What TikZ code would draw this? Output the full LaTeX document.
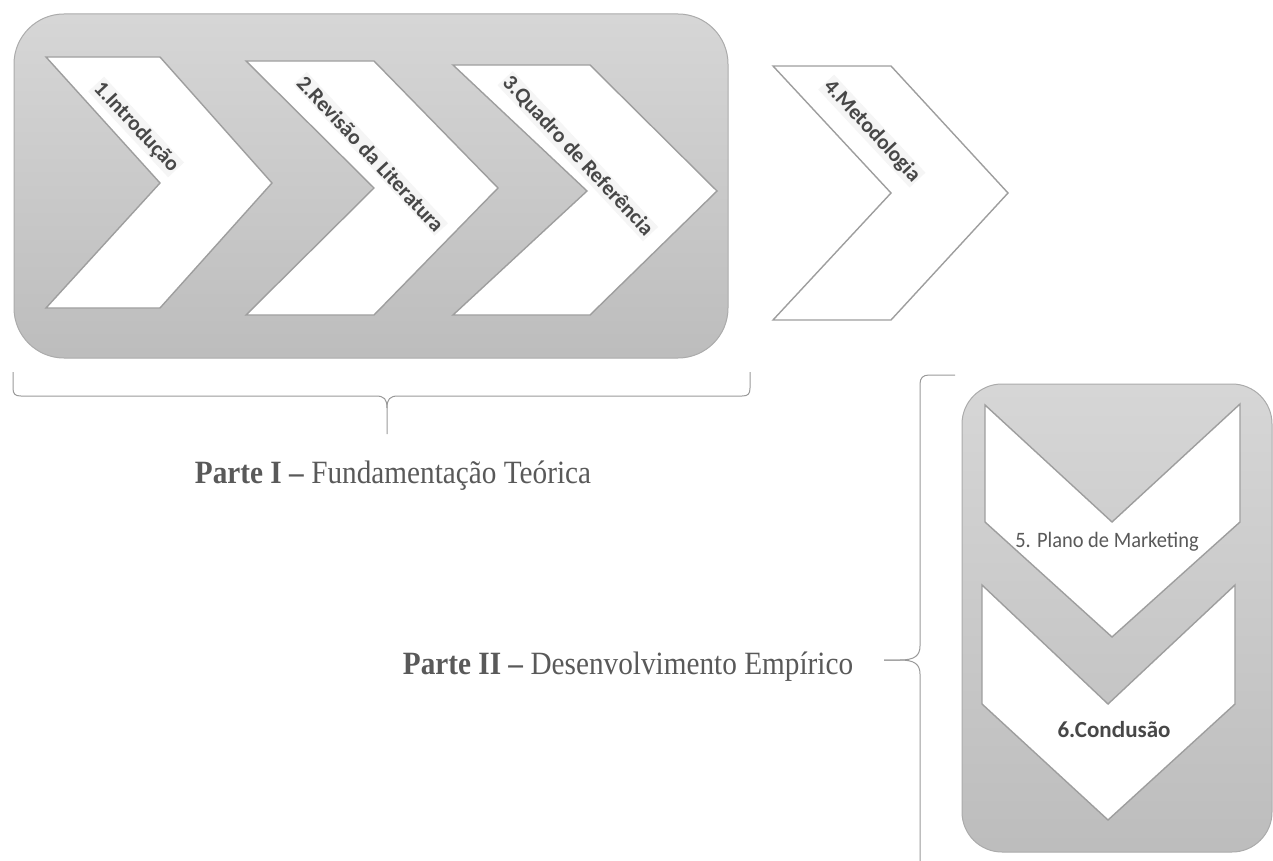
\documentclass[tikz,border=0pt]{standalone}
\usepackage{fontspec}
\setmainfont{Liberation Serif}
\newfontfamily\carlito{Carlito}
\begin{document}
\begin{tikzpicture}[x=1pt,y=-1pt,
  panel/.style={draw=black!33, line width=1pt, rounded corners=#1,
                top color=black!16, bottom color=black!26},
  chev/.style={draw=black!38, line width=1.4pt, fill=white, line join=miter},
  steplabel/.style={font=\carlito\bfseries\fontsize{21.5}{24}\selectfont,
                    text=black!72, fill=black!4, inner sep=1.5pt,
                    rotate=-47, anchor=west},
  downlabel/.style={font=\carlito\fontsize{22}{26}\selectfont, text=black!65, anchor=base},
  brace/.style={draw=black!40, line width=1pt},
  parte/.style={font=\fontsize{32.5}{36}\selectfont, text=black!65, anchor=base}]
\useasboundingbox (0,0) rectangle (1273,861);

% Parte I panel with the first three steps
\draw[panel=50pt] (14,14) rectangle (728,358);
\draw[chev] (46,57) -- (160,57) -- (272,183) -- (160,308) -- (46,308) -- (160,183) -- cycle;
\draw[chev] (246,61) -- (374,61) -- (498,188) -- (374,315) -- (246,315) -- (374,188) -- cycle;
\draw[chev] (453,65) -- (590,65) -- (717,191) -- (590,315) -- (453,315) -- (587,191) -- cycle;
% step 4 stands outside the panel
\draw[chev] (773,66) -- (891,66) -- (1008,193) -- (891,320) -- (773,320) -- (891,193) -- cycle;

\node[steplabel] (s1) at (96,84) {1.Introdução};
\node[steplabel] (s2) at (300,78) {2.Revisão da Literatura};
\node[steplabel] (s3) at (505,78) {3.Quadro de Referência};
\node[steplabel] (s4) at (826,82) {4.Metodologia};

% Parte II panel with the downward steps
\draw[panel=40pt] (962,384) rectangle (1272,852);
\draw[chev] (985,405) -- (1112,522) -- (1240,404) -- (1240,522) -- (1112,637) -- (985,522) -- cycle;
\draw[chev] (982,585) -- (1108,704) -- (1235,585) -- (1235,704) -- (1108,820) -- (982,704) -- cycle;

\node[downlabel] (s5) at (1107,547) {\scalebox{0.93}[1]{5. Plano de Marketing}};
\node[downlabel, font=\carlito\bfseries\fontsize{23}{26}\selectfont, text=black!72]
  (s6) at (1114,737) {6.Conc\kern-0.08em lusão};

% brace under the first panel
\coordinate (b1) at (387,434);
\draw[brace] (13,372) -- (13,388) .. controls (13,394) and (15,396) .. (21,396)
  -- (376,396) .. controls (384,396) and (387,399) .. (387,408) -- (b1);
\draw[brace] (750,372) -- (750,388) .. controls (750,394) and (748,396) .. (742,396)
  -- (398,396) .. controls (390,396) and (387,399) .. (387,408);
\node[parte] (p1) at (393,483) {\scalebox{0.9}[1]{\textbf{Parte I –} Fundamentação Teórica}};

% brace beside the second panel
\coordinate (b2) at (884,660);
\draw[brace] (955,375) -- (929,375) .. controls (923,375) and (920,378) .. (920,384)
  -- (920,646) .. controls (920,656) and (914,660) .. (900,660) -- (b2);
\draw[brace] (b2) -- (900,660) .. controls (914,660) and (920,664) .. (920,674) -- (920,861);
\node[parte] (p2) at (628,674) {\scalebox{0.9}[1]{\textbf{Parte II –} Desenvolvimento Empírico}};
\end{tikzpicture}
\end{document}
